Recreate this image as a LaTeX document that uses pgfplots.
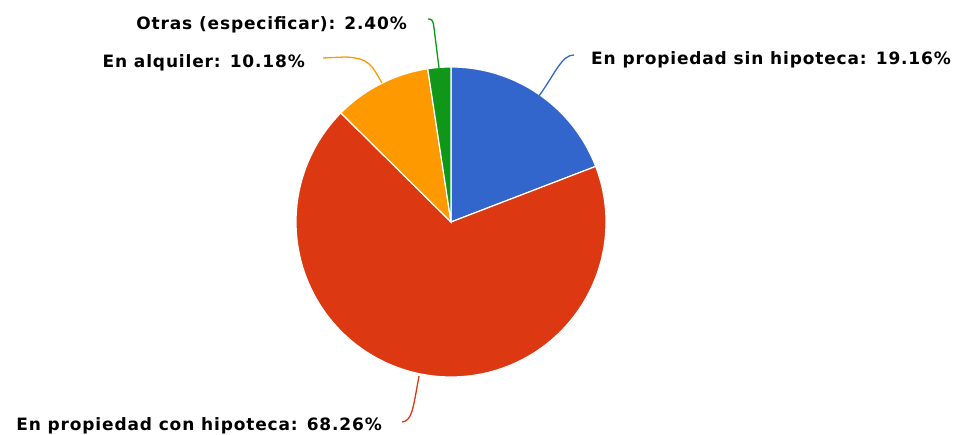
\documentclass[border=0pt]{standalone}
\usepackage{pgfplots}
\pgfplotsset{compat=1.18}
\usepackage{fontspec}
\setmainfont{DejaVu Sans}[LetterSpace=5]
\definecolor{cA}{HTML}{3366CC}
\definecolor{cB}{HTML}{DC3912}
\definecolor{cC}{HTML}{FF9900}
\definecolor{cD}{HTML}{109618}
\tikzset{lab/.style={inner sep=0pt,font=\fontsize{17}{20}\selectfont\bfseries}}
% shares (percent)
\def\pA{19.16}\def\pB{68.26}\def\pC{10.18}\def\pD{2.40}
\begin{document}
\begin{tikzpicture}
\pgfmathsetmacro{\aZ}{90}
\pgfmathsetmacro{\aA}{\aZ-3.6*\pA}
\pgfmathsetmacro{\aB}{\aA-3.6*\pB}
\pgfmathsetmacro{\aC}{\aB-3.6*\pC}
\pgfmathsetmacro{\aD}{\aC-3.6*\pD}
\begin{axis}[width=956pt,height=434pt,scale only axis,
  xmin=0,xmax=956,ymin=0,ymax=434,hide axis,clip=false]
\path (0,0) rectangle (956,434);
\def\cx{451}\def\cy{212}\def\r{155}
\addplot[fill=cA,draw=white,line width=1.2pt,domain=\aA:\aZ,samples=60,variable=\t]
  ({\cx+\r*cos(\t)},{\cy+\r*sin(\t)}) -- (\cx,\cy) -- cycle;
\addplot[fill=cB,draw=white,line width=1.2pt,domain=\aB:\aA,samples=160,variable=\t]
  ({\cx+\r*cos(\t)},{\cy+\r*sin(\t)}) -- (\cx,\cy) -- cycle;
\addplot[fill=cC,draw=white,line width=1.2pt,domain=\aC:\aB,samples=40,variable=\t]
  ({\cx+\r*cos(\t)},{\cy+\r*sin(\t)}) -- (\cx,\cy) -- cycle;
\addplot[fill=cD,draw=white,line width=1.2pt,domain=\aD:\aC,samples=20,variable=\t]
  ({\cx+\r*cos(\t)},{\cy+\r*sin(\t)}) -- (\cx,\cy) -- cycle;
% leader lines
\draw[cA,line width=1.3pt] (539,338) .. controls (556,362) and (562,379) .. (574,379);
\draw[cB,line width=1.3pt] (419,58) .. controls (413,25) and (412,13) .. (402,12);
\draw[cC,line width=1.3pt] (382,351) .. controls (372,368) and (370,376) .. (345,377) -- (323,376);
\draw[cD,line width=1.3pt] (439,366) -- (434,406) .. controls (433,414) and (432,415) .. (428,415);
% labels
\node[lab,anchor=base west] at (591,369) {En propiedad sin hipoteca: 19.16\%};
\node[lab,anchor=base east] at (382,3.3) {En propiedad con hipoteca: 68.26\%};
\node[lab,anchor=base east] at (305,366) {En alquiler: 10.18\%};
\node[lab,anchor=base east] at (407,404) {Otras (especificar): 2.40\%};
\end{axis}
\end{tikzpicture}
\end{document}
